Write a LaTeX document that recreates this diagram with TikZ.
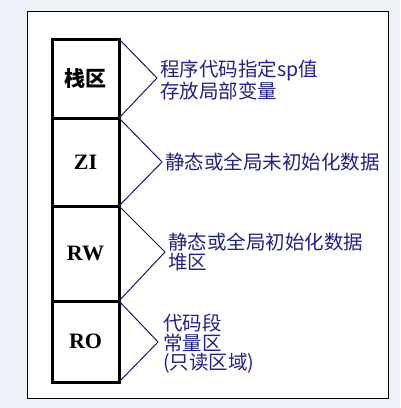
\documentclass[tikz,border=0pt]{standalone}
\usepackage{fontspec}
\setmainfont{Liberation Serif}
\newfontfamily\cjk{Noto Sans CJK SC}
\usetikzlibrary{positioning}
\definecolor{memback}{RGB}{238, 242, 249}
\definecolor{memnavy}{RGB}{34, 34, 130}
\definecolor{memline}{RGB}{26, 26, 100}
\tikzset{
  cell/.style={rectangle, draw=black, line width=3pt, fill=white, outer sep=0pt, inner sep=0pt,
               minimum width=67pt, minimum height=#1, font=\fontsize{22}{22}\selectfont\bfseries},
  cell/.default=80pt,
  note/.style={anchor=west, align=left, inner sep=0pt, text=memnavy,
               font=\cjk\fontsize{19.5}{19.5}\selectfont},
  brace/.style={draw=memline, line width=1pt, line join=miter},
}

\begin{document}
\begin{tikzpicture}[x=1pt, y=-1pt]
  % background and frame
  \fill[memback] (0,0) rectangle (400,408);
  \useasboundingbox (0,0) rectangle (400,408);
  \draw[fill=white, line width=1pt] (27,11) rectangle (388,398);

  % memory cells
  \node[cell=79pt, anchor=north west] (stack) at (52,39) {\cjk\fontsize{21}{21}\selectfont\bfseries 栈区};
  \node[cell=88pt, below=0pt of stack] (zi) {ZI};
  \node[cell=95pt, below=0pt of zi] (rw) {RW};
  \node[cell=81pt, below=0pt of rw] (ro) {RO};

  % bracket tips
  \coordinate (stacktip) at (157,78);
  \coordinate (zitip) at (162,162);
  \coordinate (rwtip) at (165,252);
  \coordinate (rotip) at (158,342);

  % brackets
  \draw[brace] (stack.north east) -- (stacktip) -- (stack.south east);
  \draw[brace] (zi.north east) -- (zitip) -- (zi.south east);
  \draw[brace] (rw.north east) -- (rwtip) -- (rw.south east);
  \draw[brace] (ro.north east) -- (rotip) -- (ro.south east);

  % notes
  \node[note] (stacknote) at ([xshift=3pt, yshift=-2pt]stacktip) {程序代码指定sp值\\存放局部变量};
  \node[note] (zinote) at ([xshift=3pt]zitip) {静态或全局未初始化数据};
  \node[note] (rwnote) at ([xshift=3pt]rwtip) {静态或全局初始化数据\\堆区};
  \node[note] (ronote) at ([xshift=5pt, yshift=-2pt]rotip) {代码段\\常量区\\(只读区域)};
\end{tikzpicture}
\end{document}
